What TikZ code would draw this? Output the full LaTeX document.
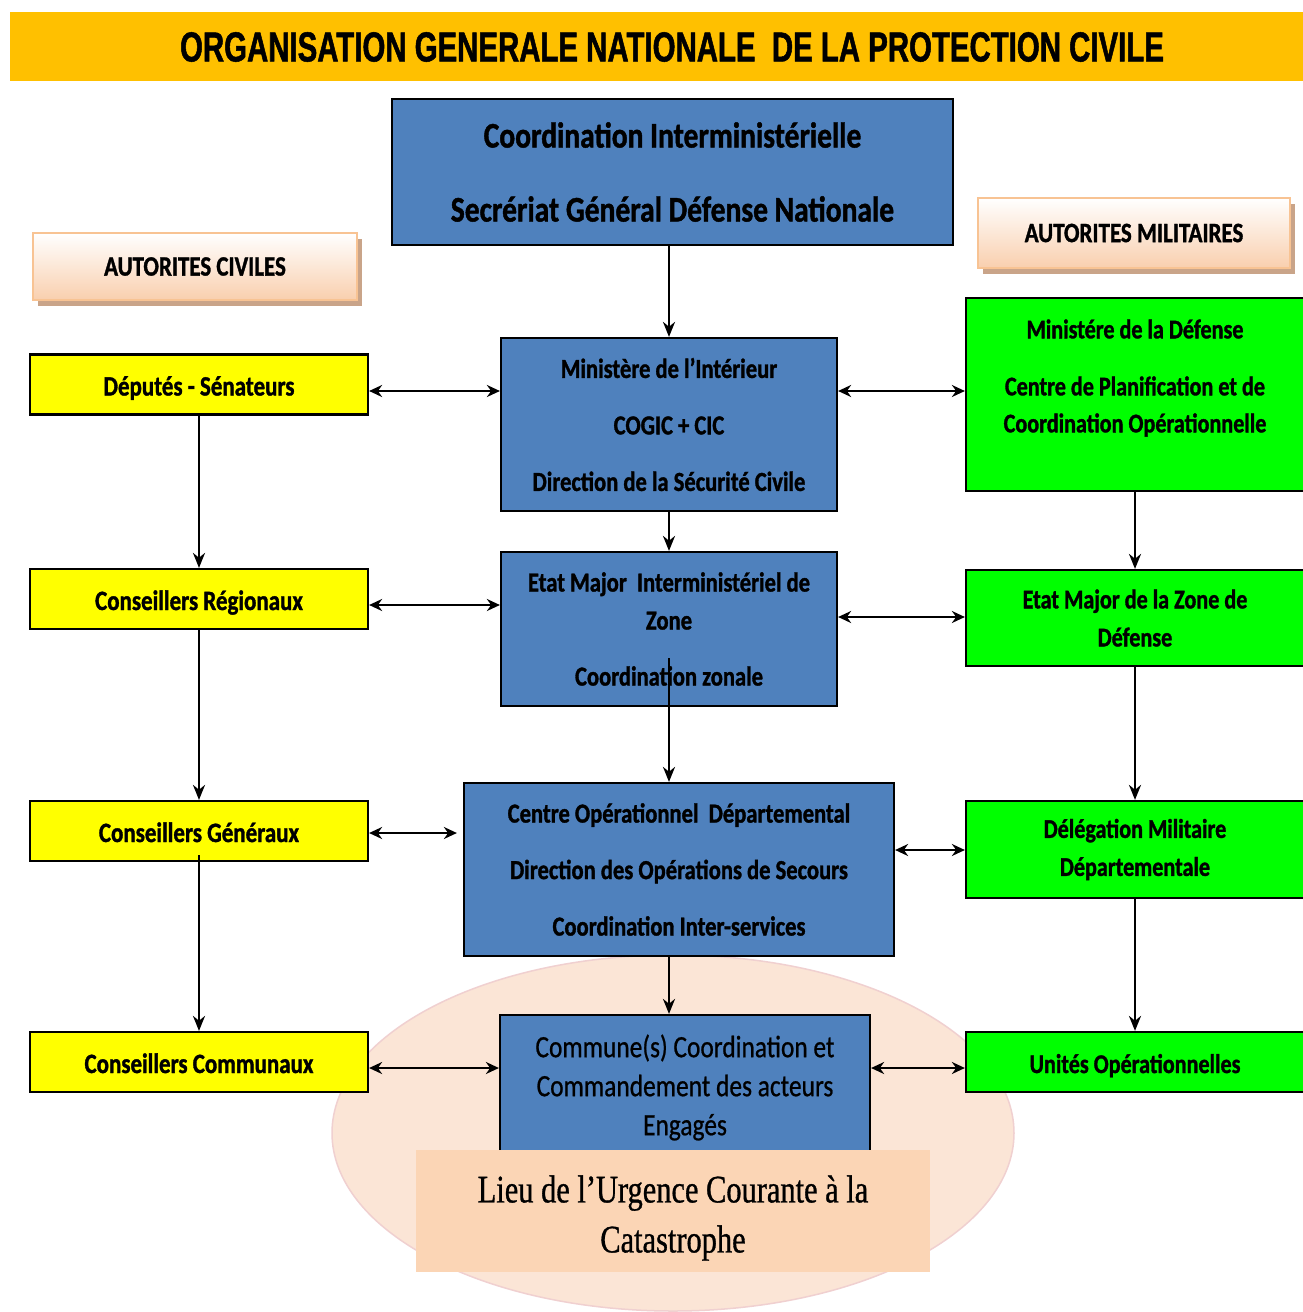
\documentclass[tikz,border=0pt]{standalone}
\usepackage{fontspec}
\usetikzlibrary{arrows.meta,shadows,shapes.geometric}
\newfontfamily\fcal[FakeStretch=0.82, BoldFeatures={FakeBold=1.2}]{Carlito}
\newfontfamily\fcalm[FakeStretch=0.82, FakeBold=0.7]{Carlito}
\newfontfamily\fttl[FakeStretch=0.70, BoldFeatures={FakeBold=1.2}]{Liberation Sans}
\newfontfamily\fsrf[FakeStretch=0.78, FakeBold=0.8]{Liberation Serif}
\definecolor{bleu}{HTML}{4F81BD}
\definecolor{titlec}{HTML}{FFC000}
\definecolor{vert}{HTML}{00FF00}
\definecolor{jaune}{HTML}{FFFF00}
\definecolor{ellf}{HTML}{FBE5D6}
\definecolor{ellc}{HTML}{F0D0D0}
\definecolor{lieuc}{HTML}{FBD5B5}
\definecolor{hdrbot}{HTML}{F9CFAE}
\definecolor{hdrb}{HTML}{F8C393}
\definecolor{shadc}{HTML}{C9A489}
\tikzset{
  box/.style={draw=black, line width=2.2pt, inner sep=0pt, align=center, text=black},
  bluebox/.style={box, fill=bleu, font=\fcal\bfseries\fontsize{27.5}{56.5}\selectfont},
  yellowbox/.style={box, fill=jaune, minimum width=338, minimum height=60, text height=22pt, text depth=0pt, font=\fcal\bfseries\fontsize{28}{34}\selectfont},
  greenbox/.style={box, fill=vert, minimum width=338, font=\fcal\bfseries\fontsize{27}{38}\selectfont},
  greentext/.style={inner sep=0pt, align=center, font=\fcal\bfseries\fontsize{27}{37}\selectfont},
  hdr/.style={draw=hdrb, line width=2pt, inner sep=0pt, top color=white, bottom color=hdrbot,
    drop shadow={shadow xshift=5pt, shadow yshift=-6pt, fill=shadc, opacity=1},
    font=\fcal\bfseries\fontsize{28}{34}\selectfont},
  arr/.style={-{Stealth[length=15pt,width=12pt]}, line width=2.4pt},
  darr/.style={{Stealth[length=13pt,width=12pt]}-{Stealth[length=13pt,width=12pt]}, line width=2.4pt},
}
\begin{document}
\begin{tikzpicture}[x=1pt,y=-1pt]
\fill[white] (0,0) rectangle (1303,1312);
\useasboundingbox (0,0) rectangle (1303,1312);

% title
\node[fill=titlec, minimum width=1293, minimum height=69, inner sep=0pt] (tb) at (656.5,46.5) {};
\node[inner sep=0pt, font=\fttl\bfseries\fontsize{42}{42}\selectfont] (tt) at (672,47) {ORGANISATION GENERALE NATIONALE\ \ DE LA PROTECTION CIVILE};

% ellipse (background)
\node[ellipse, draw=ellc, line width=1.5pt, fill=ellf, minimum width=682, minimum height=356, inner sep=0pt] (el) at (673,1133) {};

% headers
\node[hdr, minimum width=324, minimum height=67] (ac) at (195,266.5) {AUTORITES CIVILES};
\node[hdr, minimum width=312, minimum height=70] (am) at (1134,233) {AUTORITES MILITAIRES};

% central column
\node[bluebox, minimum width=561, minimum height=146, font=\fcal\bfseries\fontsize{36}{74}\selectfont] (ci) at (672.5,172) {Coordination Interministérielle\\Secrériat Général Défense Nationale};
\node[bluebox, minimum width=336, minimum height=173] (mi) at (669,424.5) {Ministère de l’Intérieur\\COGIC + CIC\\Direction de la Sécurité Civile};
\node[bluebox, minimum width=336, minimum height=154, font=\fcal\bfseries\fontsize{27.5}{38}\selectfont] (em) at (669,629) {Etat Major\ \ Interministériel de\\Zone\\[18pt]Coordination zonale};
\node[bluebox, minimum width=430, minimum height=173] (co) at (679,869.5) {Centre Opérationnel\ \ Départemental\\Direction des Opérations de Secours\\Coordination Inter-services};
\node[bluebox, minimum width=370, minimum height=145, font=\fcalm\fontsize{31}{39}\selectfont] (cm) at (685,1087.5) {Commune(s) Coordination et\\Commandement des acteurs\\Engagés};
\node[fill=lieuc, minimum width=514, minimum height=122, inner sep=0pt] (li) at (673,1211) {};
\node[inner sep=0pt, align=center, font=\fsrf\fontsize{39}{50}\selectfont] (lit) at (673,1218) {Lieu de l’Urgence Courante à la\\Catastrophe};

% civil column
\node[yellowbox] (dep) at (199,384.5) {Députés - Sénateurs};
\node[yellowbox] (cr) at (199,599) {Conseillers Régionaux};
\node[yellowbox] (cg) at (199,831) {Conseillers Généraux};
\node[yellowbox] (cc) at (199,1062) {Conseillers Communaux};

% military column
\node[greenbox, minimum height=193] (md) at (1135,394.5) {};
\node[greentext] (mdt) at (1135,378) {Ministére de la Défense\\[20pt]Centre de Planification et de\\Coordination Opérationnelle};
\node[greenbox, minimum height=96] (ez) at (1135,618) {Etat Major de la Zone de\\Défense};
\node[greenbox, minimum height=97] (dm) at (1135,849.5) {Délégation Militaire\\Départementale};
\node[greenbox, minimum height=60, text height=22pt, text depth=0pt] (uo) at (1135,1062) {Unités Opérationnelles};

% vertical arrows
\draw[arr] (ci.south -| mi) -- (mi.north);
\draw[arr] (mi.south) -- (em.north);
\draw[arr] ([yshift=-29pt]em.center) -- (em |- co.north);
\draw[arr] (co.south -| mi) -- (mi |- cm.north);
\draw[arr] (dep.south) -- (cr.north);
\draw[arr] (cr.south) -- (cg.north);
\draw[arr] ([yshift=-24pt]cg.center) -- (cc.north);
\draw[arr] (md.south) -- (ez.north);
\draw[arr] (ez.south) -- (dm.north);
\draw[arr] (dm.south) -- (uo.north);

% horizontal double arrows
\draw[darr] (dep.east |- 0,391) -- (mi.west |- 0,391);
\draw[darr] (mi.east |- 0,391) -- (md.west |- 0,391);
\draw[darr] (cr.east |- 0,605) -- (em.west |- 0,605);
\draw[darr] (em.east |- 0,617) -- (ez.west |- 0,617);
\draw[darr, shorten >=6pt] (cg.east |- 0,833) -- (co.west |- 0,833);
\draw[darr] (co.east |- 0,850) -- (dm.west |- 0,850);
\draw[darr] (cc.east |- 0,1068) -- (cm.west |- 0,1068);
\draw[darr] (cm.east |- 0,1068) -- (uo.west |- 0,1068);
\end{tikzpicture}
\end{document}
